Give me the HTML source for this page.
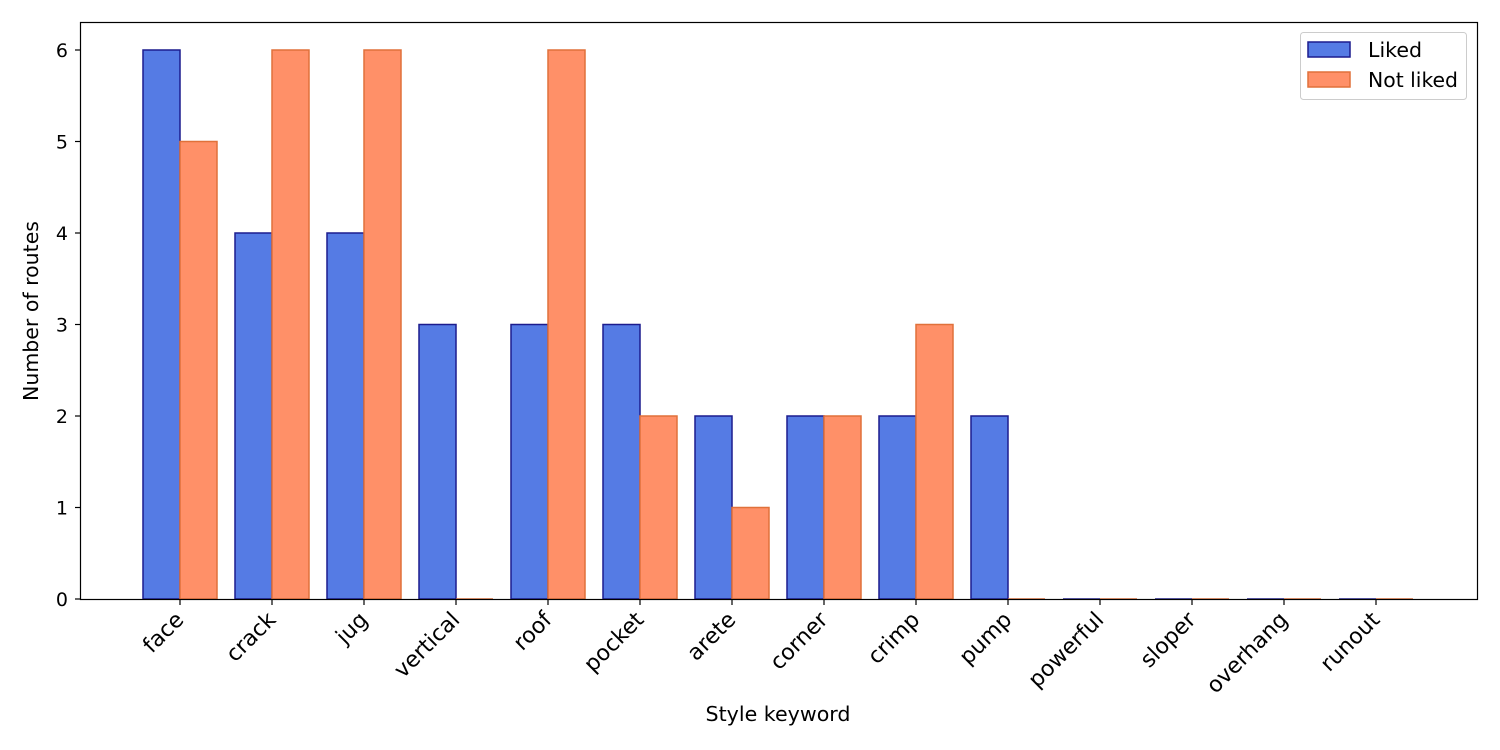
<!DOCTYPE html>
<html><head><style>body{margin:0;background:#fff}svg{display:block;font-family:"DejaVu Sans","Liberation Sans",sans-serif}</style></head>
<body>
<svg width="1500" height="750" viewBox="0 0 1500 750">
<rect width="1500" height="750" fill="#fff"/>
<g stroke-width="1.5">
<g fill="#557be4" stroke="#1c1c8e">
<rect x="143" y="50" width="37" height="549"/>
<rect x="235" y="233" width="37" height="366"/>
<rect x="327" y="233" width="37" height="366"/>
<rect x="419" y="324.5" width="37" height="274.5"/>
<rect x="511" y="324.5" width="37" height="274.5"/>
<rect x="603" y="324.5" width="37" height="274.5"/>
<rect x="695" y="416" width="37" height="183"/>
<rect x="787" y="416" width="37" height="183"/>
<rect x="879" y="416" width="37" height="183"/>
<rect x="971" y="416" width="37" height="183"/>
<line x1="1063" y1="599" x2="1100" y2="599"/>
<line x1="1155" y1="599" x2="1192" y2="599"/>
<line x1="1247" y1="599" x2="1284" y2="599"/>
<line x1="1339" y1="599" x2="1376" y2="599"/>
</g>
<g fill="#ff9068" stroke="#e0713a">
<rect x="180" y="141.5" width="37" height="457.5"/>
<rect x="272" y="50" width="37" height="549"/>
<rect x="364" y="50" width="37" height="549"/>
<line x1="456" y1="599" x2="493" y2="599"/>
<rect x="548" y="50" width="37" height="549"/>
<rect x="640" y="416" width="37" height="183"/>
<rect x="732" y="507.5" width="37" height="91.5"/>
<rect x="824" y="416" width="37" height="183"/>
<rect x="916" y="324.5" width="37" height="274.5"/>
<line x1="1008" y1="599" x2="1045" y2="599"/>
<line x1="1100" y1="599" x2="1137" y2="599"/>
<line x1="1192" y1="599" x2="1229" y2="599"/>
<line x1="1284" y1="599" x2="1321" y2="599"/>
<line x1="1376" y1="599" x2="1413" y2="599"/>
</g>
</g>
<rect x="80.5" y="22.5" width="1397" height="577" fill="none" stroke="#000" stroke-width="1.2"/>
<g stroke="#000" stroke-width="1.2">
<line x1="75" y1="599" x2="80" y2="599"/><line x1="75" y1="507.5" x2="80" y2="507.5"/>
<line x1="75" y1="416" x2="80" y2="416"/><line x1="75" y1="324.5" x2="80" y2="324.5"/>
<line x1="75" y1="233" x2="80" y2="233"/><line x1="75" y1="141.5" x2="80" y2="141.5"/>
<line x1="75" y1="50" x2="80" y2="50"/>
</g>
<g font-size="19" text-anchor="end" fill="#000">
<text x="68" y="606">0</text><text x="68" y="514.5">1</text><text x="68" y="423">2</text>
<text x="68" y="331.5">3</text><text x="68" y="240">4</text><text x="68" y="148.5">5</text><text x="68" y="57">6</text>
</g>
<text transform="translate(38,311) rotate(-90)" font-size="20" text-anchor="middle" textLength="180" lengthAdjust="spacingAndGlyphs">Number of routes</text>
<text x="778" y="721" font-size="20" text-anchor="middle" textLength="145" lengthAdjust="spacingAndGlyphs">Style keyword</text>
<g stroke="#000" stroke-width="1.2">
<line x1="180" y1="600" x2="180" y2="605"/><line x1="272" y1="600" x2="272" y2="605"/>
<line x1="364" y1="600" x2="364" y2="605"/><line x1="456" y1="600" x2="456" y2="605"/>
<line x1="548" y1="600" x2="548" y2="605"/><line x1="640" y1="600" x2="640" y2="605"/>
<line x1="732" y1="600" x2="732" y2="605"/><line x1="824" y1="600" x2="824" y2="605"/>
<line x1="916" y1="600" x2="916" y2="605"/><line x1="1008" y1="600" x2="1008" y2="605"/>
<line x1="1100" y1="600" x2="1100" y2="605"/><line x1="1192" y1="600" x2="1192" y2="605"/>
<line x1="1284" y1="600" x2="1284" y2="605"/><line x1="1376" y1="600" x2="1376" y2="605"/>
</g>
<g font-size="22" text-anchor="end">
<text transform="translate(185,621) rotate(-45)">face</text>
<text transform="translate(277,621) rotate(-45)">crack</text>
<text transform="translate(369,621) rotate(-45)">jug</text>
<text transform="translate(461,621) rotate(-45)">vertical</text>
<text transform="translate(553,621) rotate(-45)">roof</text>
<text transform="translate(645,621) rotate(-45)">pocket</text>
<text transform="translate(737,621) rotate(-45)">arete</text>
<text transform="translate(829,621) rotate(-45)">corner</text>
<text transform="translate(921,621) rotate(-45)">crimp</text>
<text transform="translate(1013,621) rotate(-45)">pump</text>
<text transform="translate(1105,621) rotate(-45)">powerful</text>
<text transform="translate(1197,621) rotate(-45)">sloper</text>
<text transform="translate(1289,621) rotate(-45)">overhang</text>
<text transform="translate(1381,621) rotate(-45)">runout</text>
</g>
<rect x="1300.5" y="32.5" width="166" height="67" rx="3" fill="#fff" stroke="#ccc" stroke-width="1"/>
<rect x="1308" y="42" width="42" height="15" fill="#557be4" stroke="#1c1c8e" stroke-width="1.5"/>
<rect x="1308" y="72" width="42" height="15" fill="#ff9068" stroke="#e0713a" stroke-width="1.5"/>
<text x="1368" y="57" font-size="20" textLength="54" lengthAdjust="spacingAndGlyphs">Liked</text>
<text x="1368" y="87" font-size="20" textLength="90" lengthAdjust="spacingAndGlyphs">Not liked</text>
</svg>
</body></html>
